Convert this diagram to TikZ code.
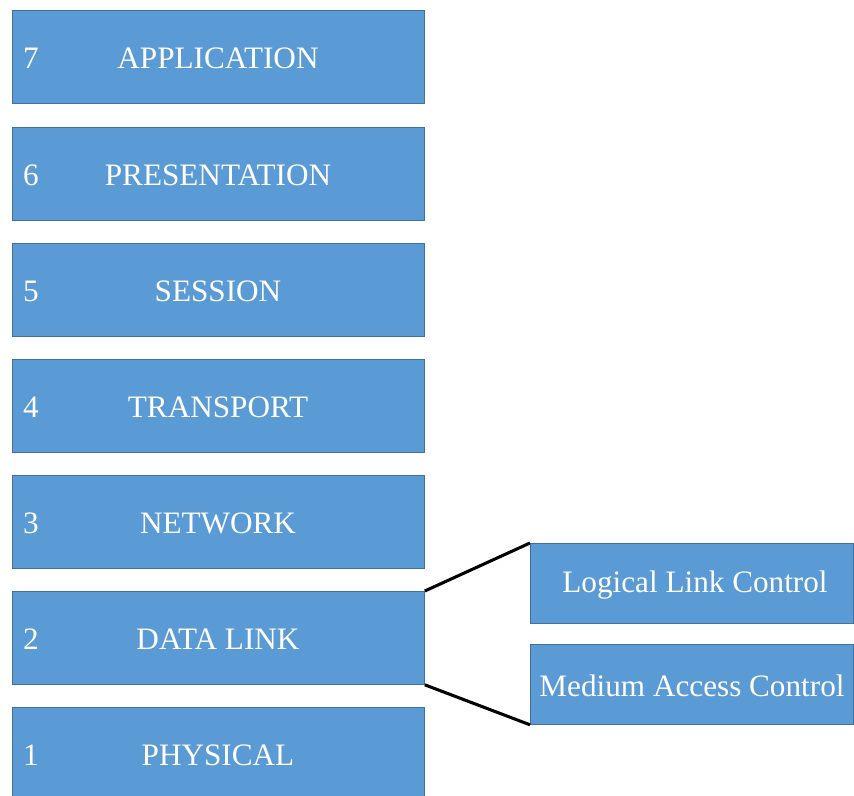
\documentclass[tikz,border=0pt]{standalone}
\usepackage{fontspec}
\setmainfont{Liberation Serif}
\definecolor{layerfill}{HTML}{5B9BD5}
\definecolor{layeredge}{HTML}{41719C}
\begin{document}
\begin{tikzpicture}[x=0.75pt,y=-0.75pt,
  layer/.style={draw=layeredge,line width=0.6pt,fill=layerfill,minimum width=412*0.75pt,minimum height=93*0.75pt,inner sep=0pt,anchor=north west},
  sublayer/.style={draw=layeredge,line width=0.6pt,fill=layerfill,minimum width=323*0.75pt,minimum height=80*0.75pt,inner sep=0pt,anchor=north west},
  lname/.style={text=white,font=\fontsize{23.4}{27}\selectfont},
  lnum/.style={text=white,font=\fontsize{23.4}{27}\selectfont},
  link/.style={line width=2.3pt,black}]
\useasboundingbox (0,0) rectangle (854,796);
\clip (0,0) rectangle (854,796);
% the seven OSI layers
\foreach \n/\name/\top in {7/APPLICATION/10,6/PRESENTATION/127,5/SESSION/243,4/TRANSPORT/359,3/NETWORK/475,2/DATA LINK/591,1/PHYSICAL/707}{
  \node[layer] (L\n) at (12,\top) {};
  \node[lname] (T\n) at (218,\top+48.5) {\name};
  \node[lnum] (N\n) at (31,\top+48.5) {\n};
}
% sublayers of the data link layer
\node[sublayer] (llc) at (530,543) {};
\node[sublayer] (mac) at (530,644) {};
\node[lname] (llct) at (695,585) {Logical Link Control};
\node[lname] (mact) at (692,686) {Medium Access Control};
\draw[link] (L2.north east) -- (llc.north west);
\draw[link] (L2.south east) -- (mac.south west);
\end{tikzpicture}
\end{document}
